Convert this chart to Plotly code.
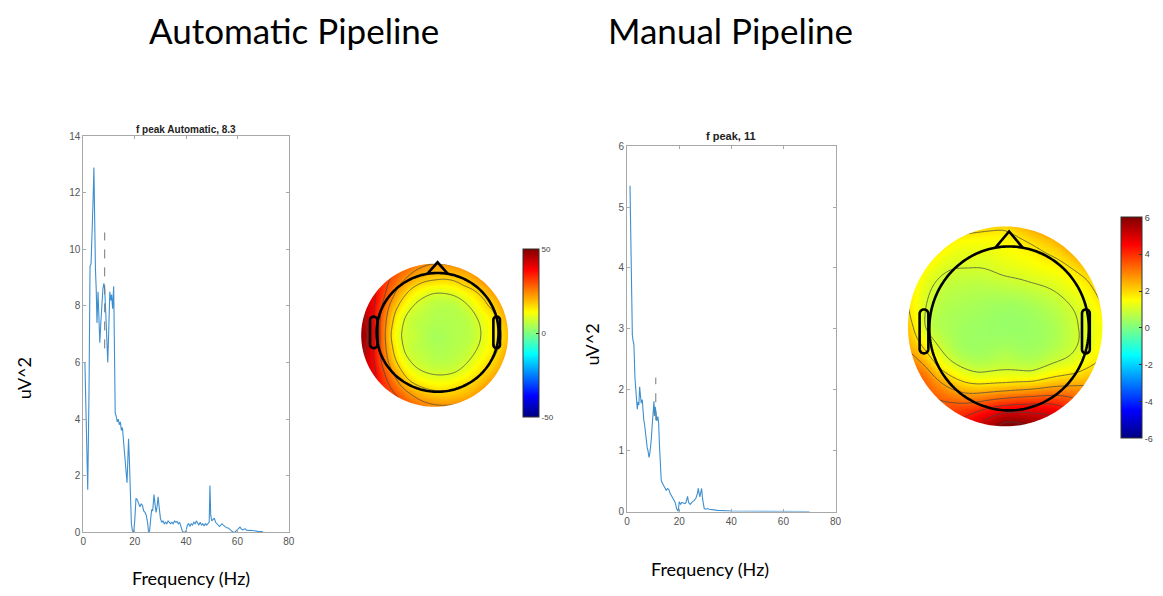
import numpy as np
import plotly.graph_objects as go

W, H = 1163, 596

# ---------------- spectra ----------------
auto_freq = [0.6, 1.0, 1.7, 2.2, 2.6, 3.0, 3.4, 3.8, 4.1, 4.4, 4.7, 5.0, 5.3, 5.7, 6.0, 6.4, 6.8, 7.2,
             7.6, 8.0, 8.3, 8.7, 9.1, 9.5, 9.9, 10.3, 10.7, 11.0, 11.4, 11.8, 12.1, 12.4, 12.8, 13.2,
             13.6, 14.0, 14.4, 14.8, 15.2, 15.6, 16.0, 16.5, 17.0, 17.3, 17.6, 17.9, 18.3, 18.7, 19.1,
             19.6, 20.0, 20.5, 21.0, 21.5, 22.0, 22.5, 23.0, 23.5, 24.0, 24.5, 25.0, 25.4, 25.8, 26.2,
             26.6, 27.0, 27.5, 27.9, 28.3, 28.7, 29.1, 29.5, 30.0, 30.5, 31.0, 31.5, 32.0, 32.5, 33.0,
             33.5, 34.0, 34.5, 35.0, 35.5, 36.0, 36.5, 37.0, 37.5, 38.0, 38.5, 39.0, 39.5, 40.0, 40.5,
             41.0, 41.5, 42.0, 42.5, 43.0, 43.5, 44.0, 44.5, 45.0, 45.5, 46.0, 46.5, 47.0, 47.5, 48.0,
             48.5, 49.0, 49.3, 49.6, 50.0, 50.5, 51.0, 51.5, 52.0, 52.5, 53.0, 53.5, 54.0, 54.5, 55.0,
             55.5, 56.0, 56.5, 57.0, 57.5, 58.0, 58.5, 59.0, 59.5, 60.0, 60.5, 61.0, 61.5, 62.0, 62.5,
             63.0, 63.5, 64.0, 65.0, 66.0, 67.0, 68.0, 69.0, 70.0]
auto_power = [6.0, 4.5, 1.5, 5.0, 9.4, 9.5, 10.4, 11.8, 12.9, 10.5, 9.3, 8.6, 7.4, 8.5, 7.9, 6.7, 7.4, 8.2,
              8.6, 8.8, 8.6, 7.8, 7.0, 6.0, 7.2, 8.5, 8.2, 8.4, 7.9, 8.7, 6.5, 4.2, 4.1, 3.9,
              4.0, 3.8, 3.9, 3.6, 3.7, 3.3, 2.8, 2.2, 1.75, 2.5, 3.3, 2.6, 1.2, 0.3, 0.05,
              0.0, 0.4, 1.2, 1.15, 1.05, 0.9, 1.0, 0.95, 0.75, 0.7, 0.6, 0.35, 0.0, 0.05, 0.45,
              0.8, 0.75, 1.33, 1.0, 0.7, 0.9, 1.25, 0.9, 0.5, 0.35, 0.4, 0.3, 0.35, 0.3, 0.4,
              0.35, 0.3, 0.35, 0.3, 0.4, 0.35, 0.38, 0.3, 0.35, 0.2, 0.05, 0.0, 0.0, 0.05, 0.25,
              0.3, 0.2, 0.3, 0.25, 0.35, 0.3, 0.4, 0.3, 0.25, 0.35, 0.25, 0.3, 0.22, 0.3, 0.25,
              0.3, 0.35, 1.65, 0.6, 0.4, 0.45, 0.5, 0.35, 0.3, 0.25, 0.2, 0.25, 0.3, 0.25, 0.2,
              0.18, 0.15, 0.15, 0.1, 0.05, 0.02, 0.0, 0.0, 0.05, 0.1, 0.15, 0.18, 0.12, 0.08, 0.1,
              0.12, 0.08, 0.06, 0.07, 0.05, 0.05, 0.03, 0.02, 0.01]
auto_peak = 8.3
auto_peak_span = [6.5, 10.6]

manual_freq = [1.1, 1.3, 1.5, 1.7, 2.0, 2.3, 2.6, 3.0, 3.3, 3.6, 3.9, 4.2, 4.5, 4.8, 5.1, 5.4, 5.8, 6.1,
               6.4, 6.7, 7.0, 7.4, 7.7, 8.0, 8.4, 8.7, 9.0, 9.3, 9.6, 9.9, 10.3, 10.5, 10.8, 11.1,
               11.4, 11.8, 12.1, 12.4, 12.7, 13.1, 13.5, 14.0, 14.5, 15.0, 15.5, 16.0, 16.5, 16.9,
               17.4, 17.8, 18.2, 18.5, 19.0, 19.6, 20.0, 20.5, 21.0, 21.6, 22.2, 22.6, 23.2, 23.6,
               24.2, 25.0, 25.7, 26.4, 27.0, 27.3, 27.6, 27.9, 28.3, 28.6, 29.0, 29.6, 30.2, 30.9,
               31.5, 32.0, 33.0, 34.0, 35.0, 36.0, 37.0, 38.0, 39.0, 40.0, 42.0, 45.0, 48.0, 50.0,
               52.0, 55.0, 58.0, 60.0, 62.0, 65.0, 68.0, 70.0]
manual_power = [5.35, 4.6, 3.9, 3.1, 2.9, 2.8, 2.75, 2.2, 1.95, 1.75, 1.68, 1.8, 1.75, 2.05, 1.9, 1.78, 1.84, 1.6,
                1.5, 1.43, 1.3, 1.1, 1.05, 1.0, 0.89, 0.95, 1.05, 1.2, 1.4, 1.6, 1.81, 1.57, 1.72, 1.62,
                1.49, 1.56, 1.45, 1.1, 0.8, 0.51, 0.47, 0.43, 0.4, 0.35, 0.38, 0.36, 0.3, 0.27,
                0.25, 0.2, 0.17, 0.14, 0.05, 0.0, 0.16, 0.12, 0.15, 0.14, 0.13, 0.15, 0.25, 0.15,
                0.12, 0.16, 0.18, 0.22, 0.3, 0.38, 0.3, 0.24, 0.32, 0.38, 0.2, 0.05, 0.04, 0.05,
                0.04, 0.035, 0.03, 0.025, 0.02, 0.02, 0.015, 0.01, 0.01, 0.008, 0.006, 0.005, 0.004, 0.005,
                0.004, 0.003, 0.003, 0.004, 0.003, 0.002, 0.002, 0.002]
manual_peak = 11
manual_peak_span = [1.5, 2.2]

# ---------------- scalp maps: values sampled on rings (12 angles, 0..330 deg) ----------------
ring_radius = [0.28, 0.55, 0.8, 1.0]
ring_angles = list(range(0, 360, 30))

auto_center = 4.0
auto_rings = [
    [5, 5, 5, 5, 6, 6, 7, 6, 6, 5, 5, 5],
    [7, 7, 7, 8, 10, 12, 13, 12, 10, 9, 8, 8],
    [14, 15, 16, 17, 20, 28, 35, 28, 20, 17, 16, 15],
    [19, 21, 22, 23, 28, 40, 48, 40, 30, 24, 22, 21],
]
auto_clim = [-50, 50]
auto_cticks = [50, 0, -50]

manual_center = 0.3
manual_rings = [
    [0.35, 0.4, 0.45, 0.5, 0.45, 0.4, 0.35, 0.35, 0.45, 0.6, 0.45, 0.35],
    [0.6, 0.8, 1.1, 1.1, 0.8, 0.6, 0.5, 0.6, 1.1, 1.7, 1.2, 0.7],
    [1.1, 1.4, 1.7, 1.5, 1.2, 0.9, 0.9, 1.8, 2.8, 4.3, 3.4, 1.4],
    [1.5, 2.0, 2.4, 2.0, 1.6, 1.5, 2.1, 3.3, 3.9, 6.0, 4.8, 2.2],
]
manual_clim = [-6, 6]
manual_cticks = [6, 4, 2, 0, -2, -4, -6]

JET = [[0.0, "#000080"], [0.125, "#0000ff"], [0.375, "#00ffff"],
       [0.625, "#ffff00"], [0.875, "#ff0000"], [1.0, "#800000"]]


def biharmonic_grid(center_val, rings, n=161, ext=1.08):
    """MATLAB 'v4' style biharmonic spline of the ring samples onto a square grid."""
    xs, ys, vs = [0.0], [0.0], [center_val]
    for r, vals in zip(ring_radius, rings):
        for a, v in zip(ring_angles, vals):
            t = np.deg2rad(a)
            xs.append(r * np.cos(t))
            ys.append(r * np.sin(t))
            vs.append(v)
    P = np.column_stack([xs, ys])
    vs = np.array(vs, dtype=float)

    def green(d):
        with np.errstate(divide="ignore", invalid="ignore"):
            g = d ** 2 * (np.log(d) - 1.0)
        return np.where(d > 0, g, 0.0)

    D = np.linalg.norm(P[:, None, :] - P[None, :, :], axis=2)
    w = np.linalg.solve(green(D), vs)
    g = np.linspace(-ext, ext, n)
    GX, GY = np.meshgrid(g, g)
    G = np.column_stack([GX.ravel(), GY.ravel()])
    DG = np.linalg.norm(G[:, None, :] - P[None, :, :], axis=2)
    Z = (green(DG) @ w).reshape(n, n)
    Z[np.hypot(GX, GY) > 1.06] = np.nan
    return g, Z


fig = go.Figure()

line_col = "#3d8fd0"
fig.add_trace(go.Scatter(x=auto_freq, y=auto_power, mode="lines",
                         line=dict(color=line_col, width=1.1), xaxis="x", yaxis="y", showlegend=False))
fig.add_trace(go.Scatter(x=[auto_peak, auto_peak], y=auto_peak_span, mode="lines",
                         line=dict(color="#777777", width=1, dash="dash"), xaxis="x", yaxis="y",
                         showlegend=False))
fig.add_trace(go.Scatter(x=manual_freq, y=manual_power, mode="lines",
                         line=dict(color=line_col, width=1.1), xaxis="x2", yaxis="y2", showlegend=False))
fig.add_trace(go.Scatter(x=[manual_peak, manual_peak], y=manual_peak_span, mode="lines",
                         line=dict(color="#777777", width=1, dash="dash"), xaxis="x2", yaxis="y2",
                         showlegend=False))

# topographic maps: smooth fill + contour lines
topo_specs = [
    dict(center=auto_center, rings=auto_rings, clim=auto_clim, ticks=auto_cticks,
         ax="x3", ay="y3", levels=(9, 44, 7),
         cb=dict(x=524, top=250, bottom=418, thick=16, font=8)),
    dict(center=manual_center, rings=manual_rings, clim=manual_clim, ticks=manual_cticks,
         ax="x4", ay="y4", levels=(1.0, 5.8, 0.8),
         cb=dict(x=1127, top=218, bottom=439, thick=21, font=9)),
]
for s in topo_specs:
    g, Z = biharmonic_grid(s["center"], s["rings"])
    cb = s["cb"]
    fig.add_trace(go.Heatmap(
        x=g, y=g, z=Z, colorscale=JET, zmin=s["clim"][0], zmax=s["clim"][1],
        zsmooth="best", hoverinfo="skip", xaxis=s["ax"], yaxis=s["ay"],
        colorbar=dict(x=cb["x"] / W, xanchor="left", xref="paper",
                      y=1 - (cb["top"] + cb["bottom"]) / 2 / H, yanchor="middle", yref="paper",
                      len=cb["bottom"] - cb["top"], lenmode="pixels",
                      thickness=cb["thick"], thicknessmode="pixels",
                      xpad=0, ypad=0, outlinewidth=1, outlinecolor="#333333",
                      tickvals=s["ticks"], ticktext=[str(t) for t in s["ticks"]],
                      ticks="inside", ticklen=3, tickcolor="#333333",
                      tickfont=dict(family="Liberation Sans", size=cb["font"], color="#444444")),
    ))
    fig.add_trace(go.Contour(
        x=g, y=g, z=Z, showscale=False,
        contours=dict(coloring="none", start=s["levels"][0], end=s["levels"][1],
                      size=s["levels"][2], showlabels=False),
        line=dict(color="rgba(70,70,70,0.75)", width=1, smoothing=1.0),
        connectgaps=False, hoverinfo="skip", xaxis=s["ax"], yaxis=s["ay"],
    ))

# ---------------- axes ----------------
frame = dict(showline=True, linecolor="#a8a8a8", linewidth=1, mirror="ticks", ticks="inside",
             ticklen=3, tickcolor="#a8a8a8", showgrid=False, zeroline=False,
             tickfont=dict(family="Liberation Sans", size=10, color="#555555"))

# topo frame geometry (pixel centre, pixel radii of disk)
topo_geom = {
    "x3": dict(cx=435, cy=336, rx=74, ry=73, half=86),
    "x4": dict(cx=1010, cy=327, rx=98, ry=102, half=112),
}

layout = dict(
    width=W, height=H, margin=dict(l=0, r=0, t=0, b=0),
    paper_bgcolor="white", plot_bgcolor="white", showlegend=False,
    xaxis=dict(domain=[81 / W, 288 / W], range=[0, 80], tickvals=[0, 20, 40, 60, 80], anchor="y", **frame),
    yaxis=dict(domain=[1 - 537 / H, 1 - 133 / H], range=[0, 14], tickvals=list(range(0, 15, 2)),
               anchor="x", **frame),
    xaxis2=dict(domain=[629 / W, 839 / W], range=[0, 80], tickvals=[0, 20, 40, 60, 80], anchor="y2", **frame),
    yaxis2=dict(domain=[1 - 516 / H, 1 - 143 / H], range=[0, 6], tickvals=list(range(0, 7)),
                anchor="x2", **frame),
)
for key, tg in topo_geom.items():
    n = key[1:]
    half = tg["half"]
    layout["xaxis" + n] = dict(domain=[(tg["cx"] - half) / W, (tg["cx"] + half) / W],
                               range=[-half / tg["rx"], half / tg["rx"]], visible=False,
                               anchor="y" + n, fixedrange=True)
    layout["yaxis" + n] = dict(domain=[1 - (tg["cy"] + half) / H, 1 - (tg["cy"] - half) / H],
                               range=[-half / tg["ry"], half / tg["ry"]], visible=False,
                               anchor="x" + n, fixedrange=True)
fig.update_layout(**layout)


def poly_path(pts, close=True):
    s = "M " + " L ".join(f"{x:.4f},{y:.4f}" for x, y in pts)
    return s + (" Z" if close else "")


def ellipse_pts(cx, cy, rx, ry, n=160):
    t = np.linspace(0, 2 * np.pi, n, endpoint=False)
    return list(zip(cx + rx * np.cos(t), cy + ry * np.sin(t)))


def stadium_pts(cx, cy, w, h, n=24):
    r = w / 2
    top = [(cx + r * np.cos(a), cy + h / 2 - r + r * np.sin(a)) for a in np.linspace(0, np.pi, n)]
    bot = [(cx + r * np.cos(a), cy - h / 2 + r + r * np.sin(a)) for a in np.linspace(np.pi, 2 * np.pi, n)]
    return top + bot


# head drawing parameters, in disk units
heads = [
    dict(ax="x3", ay="y3", hx=0.04, hy=0.04, hr=0.83, ear_l=(-0.88, -0.78), ear_r=(0.80, 0.89),
         ear_y=(-0.22, 0.22), nose_w=0.14, nose_h=0.15, half=86 / 74, halfy=86 / 73),
    dict(ax="x4", ay="y4", hx=0.04, hy=-0.02, hr=0.82, ear_l=(-0.88, -0.79), ear_r=(0.79, 0.87),
         ear_y=(-0.25, 0.19), nose_w=0.14, nose_h=0.15, half=112 / 98, halfy=112 / 102),
]
shapes = []
for h in heads:
    L, Ly = h["half"] + 0.05, h["halfy"] + 0.05
    outer = poly_path([(-L, -Ly), (L, -Ly), (L, Ly), (-L, Ly)])
    inner = poly_path(ellipse_pts(0, 0, 1.0, 1.0, 240))
    shapes.append(dict(type="path", path=outer + " " + inner, xref=h["ax"], yref=h["ay"],
                       fillcolor="white", line=dict(width=0), layer="above"))
    lw, col = 2.6, "black"
    shapes.append(dict(type="path", path=poly_path(ellipse_pts(h["hx"], h["hy"], h["hr"], h["hr"], 200)),
                       xref=h["ax"], yref=h["ay"], line=dict(color=col, width=lw), layer="above"))
    top_y = h["hy"] + np.sqrt(h["hr"] ** 2 - h["nose_w"] ** 2)
    nose = [(h["hx"] - h["nose_w"], top_y), (h["hx"], h["hy"] + h["hr"] + h["nose_h"]),
            (h["hx"] + h["nose_w"], top_y)]
    shapes.append(dict(type="path", path=poly_path(nose, close=False), xref=h["ax"], yref=h["ay"],
                       line=dict(color=col, width=lw), layer="above"))
    ey0, ey1 = h["ear_y"]
    for ex0, ex1 in (h["ear_l"], h["ear_r"]):
        shapes.append(dict(type="path",
                           path=poly_path(stadium_pts((ex0 + ex1) / 2, (ey0 + ey1) / 2 + h["hy"],
                                                      ex1 - ex0, ey1 - ey0)),
                           xref=h["ax"], yref=h["ay"], line=dict(color=col, width=lw), layer="above"))
fig.update_layout(shapes=shapes)

# ---------------- text ----------------
def note(text, x, y, size, family="Lato", color="black", bold=False, angle=0):
    fig.add_annotation(text=f"<b>{text}</b>" if bold else text, x=x / W, y=1 - y / H,
                       xref="paper", yref="paper", showarrow=False, textangle=angle,
                       xanchor="center", yanchor="middle",
                       font=dict(family=family, size=size, color=color))


note("Automatic Pipeline", 293, 25, 35)
note("Manual Pipeline", 733, 25, 35)
note("f peak Automatic, 8.3", 184, 126, 10, family="Liberation Sans", color="#222222", bold=True)
note("f peak, 11", 734, 133, 11, family="Liberation Sans", color="#222222", bold=True)
note("uV^2", 22, 380, 18, angle=-90)
note("uV^2", 594, 345, 18, angle=-90)
note("Frequency (Hz)", 189, 584, 18)
note("Frequency (Hz)", 713, 575, 18)

fig.write_html("out.html")
